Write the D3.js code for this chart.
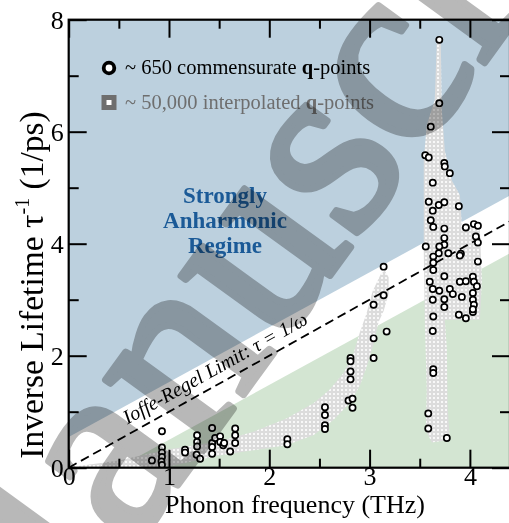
<!DOCTYPE html>
<html><head><meta charset="utf-8">
<script src="https://cdn.jsdelivr.net/npm/d3@7"></script>
<style>body{margin:0;background:#fff}svg{display:block}</style>
</head><body>
<script>
// Phonon frequency (THz) / inverse lifetime (1/ps) of the ~650 commensurate q-points
const acousticPoints = [
  [0.83,0.13],[0.93,0.65],[0.93,0.36],[0.93,0.27],[0.93,0.19],[0.925,0.11],[0.93,0.05],
  [1.16,0.32],[1.16,0.27],
  [1.28,0.58],[1.28,0.46],[1.28,0.38],[1.275,0.23],[1.31,0.16],
  [1.43,0.71],[1.43,0.44],[1.43,0.37],[1.43,0.25],[1.46,0.53],
  [1.51,0.56],[1.51,0.46],[1.54,0.40],[1.55,0.44],[1.61,0.29],
  [1.66,0.70],[1.66,0.58],[1.66,0.44],
  [2.18,0.51],[2.18,0.42],
  [2.555,1.08],[2.555,0.94],[2.555,0.76],[2.555,0.69],
  [2.81,1.96],[2.81,1.90],[2.81,1.72],[2.81,1.58],[2.79,1.20],[2.83,1.23],[2.83,1.07],
  [3.04,2.91],[3.04,2.31],[3.04,1.96],
  [3.14,3.59],[3.14,3.08],[3.17,2.43]
];
const opticalPoints = [
  [3.695,7.64],[3.695,6.51],[3.61,6.09],[3.555,5.58],[3.59,5.54],[3.745,5.44],[3.75,5.38],[3.80,5.26],
  [3.63,5.09],[3.59,4.75],[3.63,4.59],[3.69,4.69],[3.745,4.74],[3.89,4.67],[3.61,4.42],[3.635,4.30],
  [3.745,4.27],[3.745,4.10],[3.745,3.98],[3.56,3.95],[3.695,3.95],[3.69,3.83],[3.635,3.77],[3.635,3.66],
  [3.635,3.53],[3.785,3.83],[3.91,3.82],[3.90,3.79],[3.96,4.29],[4.04,4.35],[4.08,4.32],[4.06,4.13],
  [4.08,4.02],[4.08,3.68],[3.745,3.42],[3.60,3.32],[3.90,3.32],[3.96,3.33],[4.03,3.41],[4.04,3.32],
  [4.07,3.24],[3.63,3.19],[3.695,3.16],[3.80,3.19],[3.83,3.10],[3.92,3.05],[4.03,3.12],[4.03,3.00],
  [4.04,2.91],[4.03,2.78],[3.745,3.01],[3.745,2.87],[3.63,3.00],[3.89,2.73],[3.96,2.67],[4.03,2.83],
  [3.635,2.70],[3.63,2.44],[3.635,1.76],[3.635,1.69],[3.585,0.97],[3.585,0.70],[3.77,0.53]
];

// Outlines of the dense clouds of ~50,000 interpolated q-points
const acousticCloud = [
  [0.1,0.03],[0.5,0.13],[1.0,0.33],[1.5,0.47],[1.84,0.64],[2.17,0.88],[2.44,1.15],[2.6,1.39],
  [2.74,1.69],[2.84,2.04],[2.9,2.4],[2.97,2.76],[3.03,3.15],[3.11,3.45],[3.15,3.52],
  [3.19,3.4],[3.19,3.1],[3.14,2.8],[3.09,2.6],[3.04,2.22],[2.97,1.8],[2.9,1.45],[2.8,1.15],
  [2.64,0.85],[2.44,0.58],[2.17,0.4],[1.84,0.31],[1.5,0.22],[1.0,0.02],[0.6,0.0],[0.1,0.0]
];
const opticalCloud = [
  [3.67,7.6],[3.65,6.57],[3.57,6.12],[3.54,5.49],[3.54,3.88],[3.55,2.64],[3.57,1.39],[3.56,0.67],
  [3.62,0.45],[3.80,0.5],[3.78,1.03],[3.77,2.15],[3.75,2.64],[4.10,2.64],[4.12,3.35],[4.10,4.24],
  [3.92,4.33],[3.90,4.87],[3.82,5.13],[3.75,5.67],[3.72,6.39],[3.71,7.6]
];

// Regime boundaries and the Ioffe-Regel line (tau^-1 = omega)
const anharmonicEdge = [[0,0.55],[4.4,4.86]];
const harmonicEdge = [[0.49,0],[4.4,3.83]];
const ioffeRegel = [[0,0],[4.4,4.4]];

const xMajor = [0,1,2,3,4];
const xMinor = [0.5,1.5,2.5,3.5];
const yMajor = [0,2,4,6,8];
const yMinor = [1,3,5,7];

const serif = '"Times New Roman","Liberation Serif","DejaVu Serif",serif';
const W = 509, H = 523;
const x = d3.scaleLinear().domain([0,4.4]).range([68.7,510]);
const y = d3.scaleLinear().domain([0,8]).range([467.7,19.7]);
const [fMin,fMax] = x.domain(), [tMin,tMax] = y.domain();

const svg = d3.select("body").append("svg").attr("width",W).attr("height",H)
  .style("font-family",serif);
const defs = svg.append("defs");
defs.append("clipPath").attr("id","plotArea").append("rect")
  .attr("x",x(fMin)).attr("y",y(tMax)).attr("width",x(fMax)-x(fMin)).attr("height",y(tMin)-y(tMax));
const pat = defs.append("pattern").attr("id","qcloud").attr("patternUnits","userSpaceOnUse")
  .attr("width",4).attr("height",4);
pat.append("rect").attr("width",4).attr("height",4).attr("fill","#dcdcdc");
pat.append("rect").attr("x",1).attr("y",1).attr("width",2).attr("height",2).attr("fill","#f8f8f8");

const plot = svg.append("g").attr("clip-path","url(#plotArea)");
const poly = pts => pts.map(p => [x(p[0]), y(p[1])].join(",")).join(" ");

// regime shading
plot.append("polygon").attr("fill","#bcd0de")
  .attr("points", poly([anharmonicEdge[0], anharmonicEdge[1], [fMax,tMax], [fMin,tMax]]));
plot.append("polygon").attr("fill","#d3e5d2")
  .attr("points", poly([harmonicEdge[0], harmonicEdge[1], [fMax,tMin]]));

// interpolated q-point clouds
[acousticCloud, opticalCloud].forEach(c =>
  plot.append("polygon").attr("fill","url(#qcloud)").attr("points", poly(c)));

// Ioffe-Regel limit
plot.append("line")
  .attr("x1",x(ioffeRegel[0][0])).attr("y1",y(ioffeRegel[0][1]))
  .attr("x2",x(ioffeRegel[1][0])).attr("y2",y(ioffeRegel[1][1]))
  .attr("stroke","#000").attr("stroke-width",1.8).attr("stroke-dasharray","9,5");

// commensurate q-points
plot.selectAll("circle.q").data(acousticPoints.concat(opticalPoints)).join("circle")
  .attr("class","q").attr("cx",d=>x(d[0])).attr("cy",d=>y(d[1])).attr("r",3.1)
  .attr("fill","#fff").attr("stroke","#000").attr("stroke-width",1.7);

// axes with inward ticks
function styleAxis(g){
  g.select(".domain").remove();
  g.selectAll(".tick line").attr("stroke","#000").attr("stroke-width",2);
  g.selectAll("text").attr("font-family",serif).attr("font-size",26).attr("fill","#000");
  g.attr("font-size",null).attr("font-family",null);
}
svg.append("g").attr("transform",`translate(0,${y(0)})`)
  .call(d3.axisBottom(x).tickValues(xMajor).tickSize(-18).tickPadding(-1).tickFormat(d3.format("d"))).call(styleAxis);
svg.append("g").attr("transform",`translate(0,${y(0)})`)
  .call(d3.axisBottom(x).tickValues(xMinor).tickSize(-9).tickFormat("")).call(styleAxis);
svg.append("g").attr("transform",`translate(0,${y(8)})`)
  .call(d3.axisTop(x).tickValues(xMajor).tickSize(-18).tickFormat("")).call(styleAxis);
svg.append("g").attr("transform",`translate(0,${y(8)})`)
  .call(d3.axisTop(x).tickValues(xMinor).tickSize(-9).tickFormat("")).call(styleAxis);
svg.append("g").attr("transform",`translate(${x(0)},0)`)
  .call(d3.axisLeft(y).tickValues(yMajor).tickSize(-18).tickPadding(5).tickFormat(d3.format("d"))).call(styleAxis);
svg.append("g").attr("transform",`translate(${x(0)},0)`)
  .call(d3.axisLeft(y).tickValues(yMinor).tickSize(-10).tickFormat("")).call(styleAxis);
svg.append("g").attr("transform",`translate(${x(fMax)},0)`)
  .call(d3.axisRight(y).tickValues(yMajor).tickSize(-18).tickFormat("")).call(styleAxis);
svg.append("g").attr("transform",`translate(${x(fMax)},0)`)
  .call(d3.axisRight(y).tickValues(yMinor).tickSize(-10).tickFormat("")).call(styleAxis);

svg.append("rect").attr("x",x(fMin)).attr("y",y(tMax)).attr("width",x(fMax)-x(fMin))
  .attr("height",y(tMin)-y(tMax)).attr("fill","none").attr("stroke","#000").attr("stroke-width",2.2);

// axis titles
svg.append("text").attr("x",295).attr("y",513).attr("text-anchor","middle")
  .attr("font-size",26).text("Phonon frequency (THz)");
const yl = svg.append("text").attr("transform","translate(43,285) rotate(-90)")
  .attr("text-anchor","middle").attr("font-size",33.5);
yl.append("tspan").text("Inverse Lifetime τ");
yl.append("tspan").attr("font-size",20).attr("dy",-14).text("-1");
yl.append("tspan").attr("dy",14).text(" (1/ps)");

// legend
const lg = svg.append("g").attr("font-size",20.5);
lg.append("circle").attr("cx",109).attr("cy",68).attr("r",5.3)
  .attr("fill","#fff").attr("stroke","#000").attr("stroke-width",3.8);
const t1 = lg.append("text").attr("x",125).attr("y",74);
t1.append("tspan").text("~ 650 commensurate ");
t1.append("tspan").attr("font-weight","bold").text("q");
t1.append("tspan").text("-points");
lg.append("rect").attr("x",104).attr("y",97.5).attr("width",10).attr("height",10)
  .attr("fill","#fff").attr("stroke","#6e6e6e").attr("stroke-width",5);
const t2 = lg.append("text").attr("x",125).attr("y",109).attr("fill","#6e6e6e");
t2.append("tspan").text("~ 50,000 interpolated ");
t2.append("tspan").attr("font-weight","bold").text("q");
t2.append("tspan").text("-points");

// regime annotation
const ra = svg.append("text").attr("text-anchor","middle").attr("font-size",23)
  .attr("font-weight","bold").attr("fill","#1b5a97");
["Strongly","Anharmonic","Regime"].forEach((s,i) =>
  ra.append("tspan").attr("x",225).attr("y",203+i*25).text(s));

// Ioffe-Regel label along the dashed line
const ang = Math.atan2(y(0)-y(1), x(1)-x(0)) * 180 / Math.PI;
svg.append("text")
  .attr("transform",`translate(${x(0.63)},${y(0.63)}) rotate(${-ang})`)
  .attr("y",-9).attr("font-size",20).attr("font-style","italic")
  .text("Ioffe-Regel Limit: τ = 1/ω");

// watermark, multiplied over the finished figure
svg.append("text")
  .attr("transform","translate(-6,738) rotate(-54)")
  .attr("font-size",262).attr("fill","#b8b8b8")
  .attr("stroke","#b8b8b8").attr("stroke-width",7).attr("stroke-linejoin","round")
  .style("mix-blend-mode","multiply")
  .text("Manuscript");
</script>
</body></html>
